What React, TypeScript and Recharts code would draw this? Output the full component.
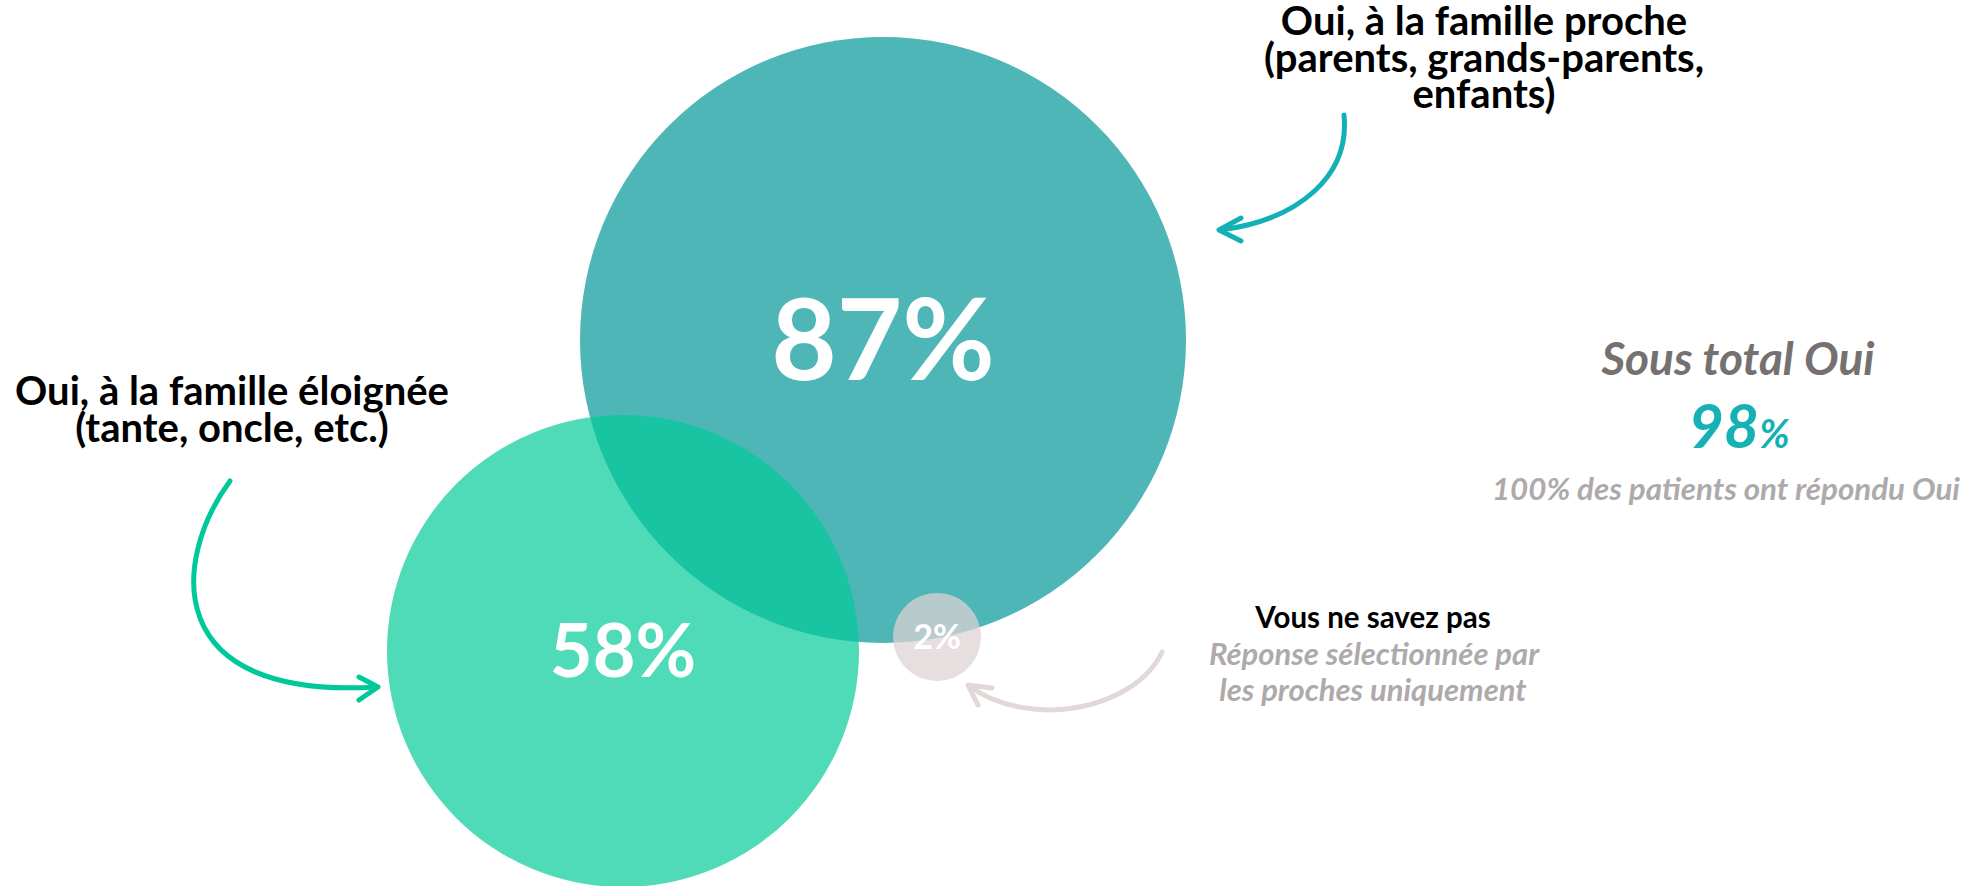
import { ScatterChart, Scatter, XAxis, YAxis, ZAxis, LabelList, Customized } from 'recharts';

// Venn layout, in chart units (1 unit = 1 px of the 1987x886 frame)
const groups = ['Oui, à la famille proche', 'Oui, à la famille éloignée', 'Vous ne savez pas'];
const values = [87, 58, 2];
const vennX = [883, 623, 937];
const vennY = [340, 651, 637];
const vennRadius = [303, 236, 44];

const subtotalLabel = 'Sous total Oui';
const subtotalValue = 98;
const patientNote = '100% des patients ont répondu Oui';

const points = groups.map((name, i) => ({
  name,
  value: values[i],
  label: `${values[i]}%`,
  x: vennX[i],
  y: vennY[i],
  r: vennRadius[i],
}));

const W = 1987;
const H = 886;
const font = 'Lato, "Open Sans", sans-serif';

function Annotations() {
  return (
    <g fontFamily={font} fontWeight={700}>
      {/* top right label + arrow */}
      <g textAnchor="middle" fontSize={40} fill="#000">
        <text x={1484} y={35}>Oui, à la famille proche</text>
        <text x={1484} y={72}>(parents, grands-parents,</text>
        <text x={1484} y={108}>enfants)</text>
      </g>
      <g fill="none" stroke="#13B1B5" strokeWidth={5} strokeLinecap="round" strokeLinejoin="round">
        <path d="M1344 115 C1350 175, 1300 220, 1220 230" />
        <path d="M1241 218 L1219 230 L1241 241" />
      </g>

      {/* left label + arrow */}
      <g textAnchor="middle" fontSize={40} fill="#000">
        <text x={232} y={405}>Oui, à la famille éloignée</text>
        <text x={232} y={442}>(tante, oncle, etc.)</text>
      </g>
      <g fill="none" stroke="#00C999" strokeWidth={5} strokeLinecap="round" strokeLinejoin="round">
        <path d="M230 481 C172 560, 160 700, 376 687" />
        <path d="M359 677 L378 687 L359 700" />
      </g>

      {/* don't know label + arrow */}
      <g textAnchor="middle">
        <text x={1373} y={628} fontSize={29.5} fill="#000">Vous ne savez pas</text>
        <text x={1374} y={665} fontSize={31} fill="#AEAAAA" fontStyle="italic">Réponse sélectionnée par</text>
        <text x={1373} y={701} fontSize={31} fill="#AEAAAA" fontStyle="italic">les proches uniquement</text>
      </g>
      <g fill="none" stroke="#E3D8D8" strokeWidth={5} strokeLinecap="round" strokeLinejoin="round">
        <path d="M1162 652 C1135 710, 1030 730, 969 686" />
        <path d="M992 688 L968 685 L978 705" />
      </g>

      {/* subtotal */}
      <g textAnchor="middle" fontStyle="italic">
        <text x={1738} y={375} fontSize={46} fill="#767171">{subtotalLabel}</text>
        <text x={1739} y={448} fill="#15B1B5">
          <tspan fontSize={61}>{subtotalValue}</tspan>
          <tspan fontSize={40}>%</tspan>
        </text>
        <text x={1726} y={500} fontSize={31.3} fill="#AEAAAA">{patientNote}</text>
      </g>
    </g>
  );
}

export default function App() {
  return (
    <div style={{ position: 'absolute', left: 0, top: 0, background: '#fff' }}>
      <ScatterChart width={W} height={H} margin={{ top: 0, right: 0, bottom: 0, left: 0 }}>
        <XAxis type="number" dataKey="x" domain={[0, W]} hide />
        <YAxis type="number" dataKey="y" domain={[0, H]} reversed hide />
        <ZAxis
          type="number"
          dataKey={(d: any) => d.r * d.r}
          domain={[0, 1000000]}
          range={[0, Math.PI * 1000000]}
        />
        <Scatter data={[points[0]]} fill="#4FB6B7" isAnimationActive={false}>
          <LabelList dataKey="label" position="center" fill="#fff" fontSize={113} fontWeight={700} fontFamily={font} />
        </Scatter>
        <Scatter data={[points[1]]} fill="#00CB98" fillOpacity={0.69} isAnimationActive={false}>
          <LabelList dataKey="label" position="center" fill="#fff" fontSize={74} fontWeight={700} fontFamily={font} />
        </Scatter>
        <Scatter data={[points[2]]} fill="#DED3D3" fillOpacity={0.73} isAnimationActive={false}>
          <LabelList dataKey="label" position="center" fill="#fff" fontSize={34} fontWeight={700} fontFamily={font} />
        </Scatter>
        <Customized component={Annotations} />
      </ScatterChart>
    </div>
  );
}
